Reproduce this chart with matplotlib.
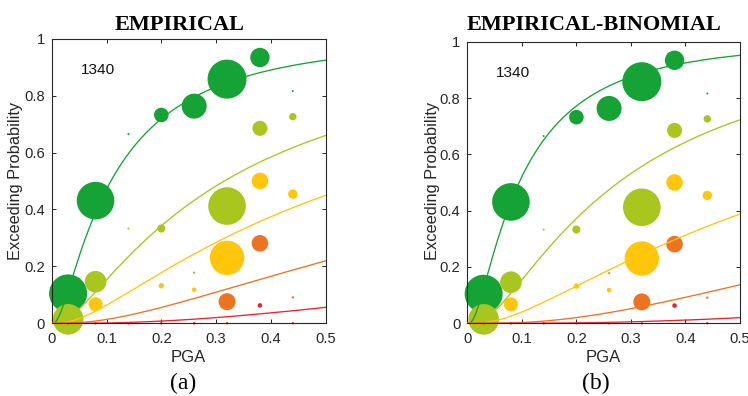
import math
import numpy as np
import matplotlib
matplotlib.use("Agg")
import matplotlib.pyplot as plt
from matplotlib import font_manager

# ---- observed data (fraction of buildings reaching or exceeding each damage state) ----
pga = [0.03, 0.08, 0.14, 0.20, 0.26, 0.32, 0.38, 0.44]

ds1_frac = [0.105, 0.431, 0.665, 0.732, 0.763, 0.858, 0.934, 0.816]
ds2_frac = [0.014, 0.146, 0.333, 0.333, 0.178, 0.412, 0.685, 0.726]
ds3_frac = [0.000, 0.067, 0.000, 0.132, 0.118, 0.230, 0.500, 0.454]
ds4_frac = [0.000, 0.000, 0.000, 0.000, 0.000, 0.076, 0.281, 0.091]
ds5_frac = [0.000, 0.000, 0.000, 0.000, 0.000, 0.000, 0.063, 0.000]

# bubble radius (px) ~ number of buildings in each damage state
ds1_size = [19.0, 18.8, 1.0, 7.3, 12.5, 19.5, 9.7, 1.0]
ds2_size = [15.3, 10.8, 1.0, 4.0, 1.2, 18.8, 7.5, 3.7]
ds3_size = [1.0, 7.0, 1.0, 2.7, 2.3, 17.2, 8.3, 4.7]
ds4_size = [1.0, 1.0, 1.0, 1.0, 1.0, 8.5, 8.3, 1.2]
ds5_size = [1.2, 1.2, 1.2, 1.2, 1.2, 1.2, 2.3, 1.2]

# lognormal fragility parameters (median PGA, log-standard deviation) per damage state
emp_theta = [0.108, 0.315, 0.578, 1.19, 2.87]
emp_beta = [1.067, 1.12, 1.15, 1.12, 1.10]
bin_theta = [0.095, 0.277, 0.684, 1.43, 3.9]
bin_beta = [1.00, 1.00, 1.10, 0.96, 1.00]

panel_titles = ["EMPIRICAL", "EMPIRICAL-BINOMIAL"]
panel_tags = ["(a)", "(b)"]
building_class = "1340"

colors = ["#16A335", "#A8C61E", "#FFC60B", "#EC7420", "#E8242C"]

fracs = [ds1_frac, ds2_frac, ds3_frac, ds4_frac, ds5_frac]
sizes = [ds1_size, ds2_size, ds3_size, ds4_size, ds5_size]

_erf = np.vectorize(math.erf)


def lognorm_cdf(x, theta, beta):
    z = np.log(x / theta) / beta
    return 0.5 * (1.0 + _erf(z / math.sqrt(2.0)))


# narrow sans for the horizontal labels, falling back to a smaller regular face
_installed = {f.name for f in font_manager.fontManager.ttflist}
if "Liberation Sans Narrow" in _installed:
    SANS_N, NARROW_SCALE = ["Liberation Sans Narrow", "DejaVu Sans"], 1.0
else:
    SANS_N, NARROW_SCALE = ["Liberation Sans", "DejaVu Sans"], 0.92
SANS = ["Liberation Sans", "DejaVu Sans"]
SERIF = ["Liberation Serif", "DejaVu Serif"]
DARK = "#262626"

W, H = 748, 396
fig = plt.figure(figsize=(W / 100, H / 100), dpi=100)

axes_px = [(51.7, 323.3, 274.0, 284.6), (467.3, 323.3, 272.7, 281.6)]
title_x = [179.5, 594.0]
tag_x = [183.0, 596.0]
xlabel_x = [188.5, 603.0]
ylabel_x = [15.5, 432.0]

fits = [(emp_theta, emp_beta), (bin_theta, bin_beta)]
xs = np.linspace(0.001, 0.5, 400)

for k in range(2):
    l, b, w, h = axes_px[k]
    ax = fig.add_axes([l / W, (H - b) / H, w / W, h / H])

    # bubbles
    for f, s, c in zip(fracs, sizes, colors):
        area = [(1.44 * r) ** 2 for r in s]
        ax.scatter(pga, f, s=area, color=c, linewidths=0, clip_on=False, zorder=2)

    # fitted fragility curves
    th, be = fits[k]
    for t, bb, c in zip(th, be, colors):
        ax.plot(xs, lognorm_cdf(xs, t, bb), color=c, lw=0.95, zorder=3)

    ax.set_xlim(0, 0.5)
    ax.set_ylim(0, 1)
    ax.set_xticks([0, 0.1, 0.2, 0.3, 0.4, 0.5])
    ax.set_xticklabels(["0", "0.1", "0.2", "0.3", "0.4", "0.5"])
    ax.set_yticks([0, 0.2, 0.4, 0.6, 0.8, 1.0])
    ax.set_yticklabels(["0", "0.2", "0.4", "0.6", "0.8", "1"])
    ax.tick_params(direction="in", top=True, right=True, length=3.0, width=0.7,
                   color=DARK, labelcolor=DARK, labelsize=11.5 * NARROW_SCALE)
    ax.tick_params(axis="x", pad=6)
    ax.tick_params(axis="y", pad=5)
    for lab in ax.get_xticklabels() + ax.get_yticklabels():
        lab.set_family(SANS_N)
    for sp in ax.spines.values():
        sp.set_color(DARK)
        sp.set_linewidth(0.8)

    ax.text(0.053, 0.89, building_class, fontsize=12 * NARROW_SCALE, family=SANS_N,
            color="#111111", va="center", ha="left")

    fig.text(title_x[k] / W, (H - 30) / H, panel_titles[k], ha="center",
             va="baseline", fontsize=16, fontweight="bold", family=SERIF)
    fig.text(xlabel_x[k] / W, (H - 357) / H, "PGA", ha="center", va="center",
             fontsize=13 * NARROW_SCALE, family=SANS_N, color=DARK)
    fig.text(ylabel_x[k] / W, (H - 181) / H, "Exceeding Probability",
             rotation=90, ha="center", va="center", fontsize=11.8,
             family=SANS, color=DARK)
    fig.text(tag_x[k] / W, (H - 383) / H, panel_tags[k], ha="center",
             va="center", fontsize=17, family=SERIF)

fig.savefig("out.png", dpi=100, facecolor="white")
